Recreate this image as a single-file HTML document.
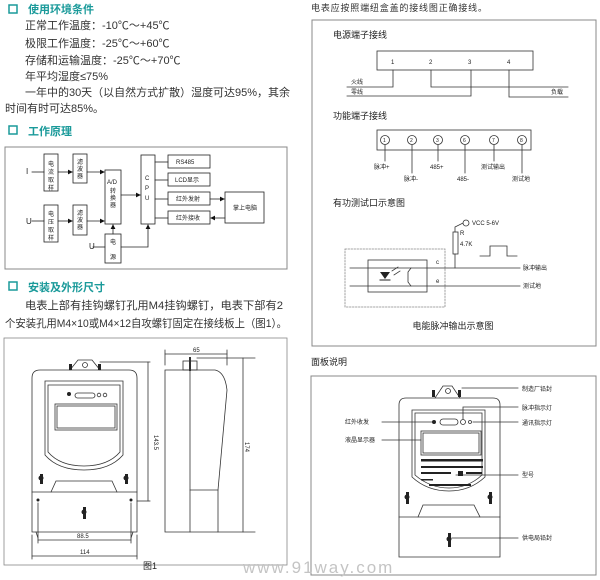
<!DOCTYPE html>
<html><head><meta charset="utf-8"><style>
html,body{margin:0;padding:0;background:#fff;}
svg{display:block;}
text{font-family:"Liberation Sans","Noto Sans CJK SC",sans-serif;fill:#222;}
.b{font-size:11px;fill:#333;}
.h{font-size:11px;font-weight:bold;fill:#1a9a9a;}
.s{font-size:6px;}
.m{font-size:8px;}
</style></head><body>
<svg width="600" height="580" viewBox="0 0 600 580" xmlns="http://www.w3.org/2000/svg" stroke-linecap="square">
<defs><marker id="ar" markerWidth="6" markerHeight="6" refX="5" refY="3" orient="auto"><path d="M0,0 L6,3 L0,6z" fill="#111"/></marker></defs>
<!-- LEFT TEXT -->
<rect x="9" y="5" width="8" height="8" fill="none" stroke="#1a9a9a" stroke-width="1.5"/>
<text x="28" y="13" class="h">使用环境条件</text>
<text x="25" y="29" class="b">正常工作温度：-10℃～+45℃</text>
<text x="25" y="47" class="b">极限工作温度：-25℃～+60℃</text>
<text x="25" y="64" class="b">存储和运输温度：-25℃～+70℃</text>
<text x="25" y="80" class="b">年平均湿度≤75%</text>
<text x="25" y="96" class="b" textLength="265" lengthAdjust="spacingAndGlyphs">一年中的30天（以自然方式扩散）湿度可达95%，其余</text>
<text x="5" y="112" class="b">时间有时可达85%。</text>
<rect x="9" y="126" width="8" height="8" fill="none" stroke="#1a9a9a" stroke-width="1.5"/>
<text x="28" y="135" class="h">工作原理</text>
<!-- block diagram -->
<g fill="none" stroke="#222" stroke-width="0.8">
<rect x="5" y="147" width="282" height="122" stroke="#888" stroke-width="1"/>
<rect x="44" y="154" width="14" height="37"/><rect x="73" y="154" width="14" height="29"/>
<rect x="44" y="205" width="14" height="37"/><rect x="73" y="205" width="14" height="30"/>
<rect x="105" y="170" width="16" height="54"/><rect x="105" y="234" width="16" height="29"/>
<rect x="141" y="155" width="14" height="69"/>
<rect x="168" y="155" width="42" height="13"/><rect x="168" y="173" width="42" height="13"/>
<rect x="168" y="192" width="42" height="13"/><rect x="168" y="211" width="42" height="13"/>
<rect x="225" y="192" width="39" height="31"/>
<line x1="32" y1="172" x2="44" y2="172"/><line x1="58" y1="172" x2="72" y2="172" marker-end="url(#ar)"/>
<line x1="87" y1="172" x2="104" y2="172" marker-end="url(#ar)"/>
<line x1="32" y1="221" x2="44" y2="221"/><line x1="58" y1="221" x2="72" y2="221" marker-end="url(#ar)"/>
<line x1="87" y1="221" x2="104" y2="221" marker-end="url(#ar)"/>
<line x1="113" y1="234" x2="113" y2="225" marker-end="url(#ar)"/>
<line x1="121" y1="195" x2="140" y2="195" marker-end="url(#ar)"/>
<line x1="93" y1="247" x2="105" y2="247"/>
<polyline points="121,247 148,247 148,225" marker-end="url(#ar)"/>
<line x1="155" y1="162" x2="168" y2="162"/><line x1="155" y1="180" x2="168" y2="180"/>
<line x1="155" y1="199" x2="168" y2="199"/><line x1="155" y1="218" x2="168" y2="218"/>
<line x1="210" y1="199" x2="224" y2="199" marker-end="url(#ar)"/>
<line x1="225" y1="218" x2="211" y2="218" marker-end="url(#ar)"/>
</g>
<g class="s">
<text x="26" y="174" class="m">I</text><text x="26" y="224" class="m">U</text><text x="89" y="249" class="m">U</text>
<text x="48" y="166">电</text><text x="48" y="174">流</text><text x="48" y="182">取</text><text x="48" y="190">样</text>
<text x="48" y="216">电</text><text x="48" y="224">压</text><text x="48" y="232">取</text><text x="48" y="240">样</text>
<text x="77" y="164">滤</text><text x="77" y="171">波</text><text x="77" y="178">器</text>
<text x="77" y="215">滤</text><text x="77" y="222">波</text><text x="77" y="229">器</text>
<text x="107" y="184">A/D</text><text x="110" y="193">转</text><text x="110" y="200">换</text><text x="110" y="207">器</text>
<text x="110" y="244">电</text><text x="110" y="259">源</text>
<text x="145" y="180">C</text><text x="145" y="190">P</text><text x="145" y="200">U</text>
<text x="176" y="164">RS485</text><text x="175" y="182">LCD显示</text><text x="176" y="201">红外发射</text><text x="176" y="220">红外接收</text>
<text x="233" y="210">掌上电脑</text>
</g>
<rect x="9" y="282" width="8" height="8" fill="none" stroke="#1a9a9a" stroke-width="1.5"/>
<text x="28" y="291" class="h">安装及外形尺寸</text>
<text x="25" y="309" class="b" textLength="258" lengthAdjust="spacingAndGlyphs">电表上部有挂钩螺钉孔用M4挂钩螺钉，电表下部有2</text>
<text x="5" y="327" class="b" textLength="282" lengthAdjust="spacingAndGlyphs">个安装孔用M4×10或M4×12自攻螺钉固定在接线板上（图1）。</text>
<!-- figure 1 -->
<g fill="none" stroke="#333" stroke-width="0.8">
<rect x="4" y="338" width="283" height="227" stroke="#888"/>
<path d="M70,370 L78,360 L92,360 L100,370"/><circle cx="85" cy="365" r="2.5"/>
<path d="M32,532 L32,378 Q32,370 40,370 L129,370 Q137,370 137,378 L137,532 Z"/>
<path d="M45,381 L123,381 L123,455 Q110,470 84,470 Q58,470 45,455 Z"/>
<path d="M48,385 L120,385 L120,452 Q108,466 84,466 Q60,466 48,452 Z"/>
<rect x="55" y="404" width="62" height="26"/><rect x="57" y="406" width="58" height="22"/>
<rect x="75" y="393" width="20" height="5" rx="2.5"/><circle cx="99" cy="395" r="1.8"/><circle cx="105" cy="395" r="1.8"/>
<line x1="32" y1="492" x2="137" y2="492"/>
<path d="M51,492 L56,481 L112,481 L117,492"/>
<line x1="36" y1="532" x2="38" y2="538"/><line x1="133" y1="532" x2="131" y2="538"/>
<line x1="38" y1="540" x2="131" y2="540"/><line x1="38" y1="503" x2="38" y2="543"/><line x1="131" y1="503" x2="131" y2="543"/>
<line x1="32" y1="556" x2="137" y2="556"/><line x1="32" y1="535" x2="32" y2="559"/><line x1="137" y1="535" x2="137" y2="559"/>
<line x1="100" y1="362" x2="150" y2="362"/><line x1="137" y1="501" x2="150" y2="501"/><line x1="148" y1="362" x2="148" y2="501"/>
<path d="M165,532 L165,370 L215,370 Q225,372 227,390 L218,490 L218,532 Z"/>
<line x1="190" y1="370" x2="190" y2="532"/><line x1="190" y1="490" x2="218" y2="490"/>
<rect x="183" y="361" width="14" height="9"/><line x1="190" y1="358" x2="190" y2="370" stroke-width="2"/>
<line x1="165" y1="354" x2="227" y2="354"/><line x1="165" y1="350" x2="165" y2="365"/><line x1="227" y1="350" x2="227" y2="365"/>
<line x1="197" y1="358" x2="255" y2="358"/><line x1="218" y1="532" x2="255" y2="532"/><line x1="243" y1="358" x2="243" y2="532"/>
</g>
<g fill="#222">
<rect x="69" y="364" width="3" height="6"/><rect x="98" y="364" width="3" height="6"/>
<circle cx="69" cy="394" r="2"/>
<rect x="40" y="474" width="3" height="10"/><circle cx="41" cy="478" r="2.5"/>
<rect x="125" y="474" width="3" height="10"/><circle cx="126" cy="478" r="2.5"/>
<rect x="83" y="507" width="3" height="12"/><circle cx="84" cy="512" r="2.5"/>
<circle cx="38" cy="500" r="1.5"/><circle cx="131" cy="500" r="1.5"/>
</g>
<text x="77" y="538" class="s">88.5</text><text x="80" y="554" class="s">114</text>
<text x="154" y="435" class="s" transform="rotate(90 154 435)">143.5</text>
<text x="245" y="442" class="s" transform="rotate(90 245 442)">174</text>
<text x="193" y="352" class="s">65</text>
<text x="143" y="569" style="font-size:9px">图1</text>
<!-- RIGHT -->
<text x="311" y="11" style="font-size:9px;fill:#333" textLength="176" lengthAdjust="spacing">电表应按照端纽盒盖的接线图正确接线。</text>
<rect x="312" y="20" width="284" height="326" fill="none" stroke="#888"/>
<text x="333" y="38" style="font-size:9px">电源端子接线</text>
<g fill="none" stroke="#333" stroke-width="0.8">
<rect x="377" y="51" width="156" height="19"/>
<polyline points="347,87 393,87 393,70"/>
<polyline points="431,70 431,87 568,87"/>
<polyline points="347,96 471,96 471,70"/>
<polyline points="509,70 509,97 568,97"/>
<rect x="377" y="130" width="154" height="20"/>
<circle cx="385" cy="140" r="4.5"/><circle cx="412" cy="140" r="4.5"/><circle cx="438" cy="140" r="4.5"/>
<circle cx="465" cy="140" r="4.5"/><circle cx="494" cy="140" r="4.5"/><circle cx="522" cy="140" r="4.5"/>
<line x1="385" y1="145" x2="385" y2="161"/><line x1="412" y1="145" x2="412" y2="173"/>
<line x1="438" y1="145" x2="438" y2="161"/><line x1="465" y1="145" x2="465" y2="173"/>
<line x1="494" y1="145" x2="494" y2="161"/><line x1="522" y1="145" x2="522" y2="173"/>
</g>
<g class="s">
<text x="391" y="64">1</text><text x="429" y="64">2</text><text x="468" y="64">3</text><text x="507" y="64">4</text>
<text x="351" y="84">火线</text><text x="351" y="94">零线</text><text x="551" y="94">负载</text>
<text x="383" y="142" style="font-size:5px">1</text><text x="410" y="142" style="font-size:5px">2</text><text x="436" y="142" style="font-size:5px">3</text>
<text x="463" y="142" style="font-size:5px">6</text><text x="492" y="142" style="font-size:5px">7</text><text x="520" y="142" style="font-size:5px">8</text>
<text x="374" y="169">脉冲+</text><text x="404" y="181">脉冲-</text><text x="430" y="169">485+</text>
<text x="457" y="181">485-</text><text x="481" y="169">测试输出</text><text x="512" y="181">测试地</text>
</g>
<text x="333" y="119" style="font-size:9px">功能端子接线</text>
<text x="333" y="206" style="font-size:9px">有功测试口示意图</text>
<g fill="none" stroke="#333" stroke-width="0.8">
<circle cx="466" cy="223" r="3"/><polyline points="463,223 455,227 455,232"/>
<rect x="453" y="232" width="5" height="22"/><line x1="455" y1="254" x2="455" y2="268"/>
<rect x="345" y="249" width="100" height="58" stroke-dasharray="1.5,1.5" stroke="#888"/>
<rect x="368" y="260" width="59" height="32"/>
<line x1="350" y1="268" x2="520" y2="268"/><line x1="350" y1="286" x2="520" y2="286"/>
<polyline points="480,256 490,256 490,246 507,246 507,256 517,256"/>
<polyline points="411,268 408,272 408,282 411,286"/>
<line x1="392" y1="271" x2="398" y2="267"/><line x1="394" y1="275" x2="400" y2="271"/>
</g>
<path d="M380,272 L390,272 L385,279Z" fill="#222"/><line x1="380" y1="280" x2="390" y2="280" stroke="#222"/>
<g class="s"><text x="472" y="225">VCC 5-6V</text><text x="460" y="235">R</text><text x="460" y="246">4.7K</text>
<text x="436" y="264">c</text><text x="436" y="283">e</text><text x="523" y="270">脉冲输出</text><text x="523" y="288">测试地</text></g>
<text x="453" y="329" style="font-size:9px" text-anchor="middle">电能脉冲输出示意图</text>
<text x="311" y="365" style="font-size:9px">面板说明</text>
<rect x="311" y="376" width="285" height="199" fill="none" stroke="#888"/>
<g fill="none" stroke="#333" stroke-width="0.8">
<path d="M435,398 L443,386 L452,386 L460,398"/><circle cx="448" cy="391" r="2.5"/>
<path d="M399,557 L399,405 Q399,398 406,398 L493,398 Q500,398 500,405 L500,557 Z"/>
<path d="M412,410 L485,410 L485,477 Q470,491 449,491 Q427,491 412,477 Z"/>
<path d="M415,413 L482,413 L482,475 Q468,488 449,488 Q430,488 415,475 Z"/>
<rect x="421" y="431" width="60" height="24"/><rect x="423" y="433" width="56" height="20"/>
<rect x="440" y="419" width="18" height="6" rx="3"/><circle cx="463" cy="422" r="2.5"/><circle cx="470" cy="422" r="1.5"/>
<line x1="399" y1="517" x2="500" y2="517"/><path d="M418,517 L423,505 L474,505 L480,517"/>
<line x1="462" y1="388" x2="518" y2="388"/><polyline points="463,419 463,407 518,407"/>
<line x1="473" y1="422" x2="518" y2="422"/><line x1="456" y1="475" x2="518" y2="475"/>
<line x1="452" y1="538" x2="518" y2="538"/>
<line x1="382" y1="422" x2="432" y2="422"/><line x1="382" y1="440" x2="421" y2="440"/>
</g>
<g fill="#222">
<rect x="432" y="390" width="3" height="7"/><rect x="458" y="390" width="3" height="7"/>
<circle cx="434" cy="422" r="2"/>
<rect x="421" y="459" width="62" height="2.5"/><rect x="421" y="466" width="62" height="2"/>
<rect x="421" y="472" width="30" height="2"/><rect x="458" y="471" width="5" height="5"/><rect x="466" y="472" width="16" height="2"/>
<rect x="421" y="479" width="12" height="1.5"/><rect x="429" y="484" width="42" height="2"/>
<rect x="406" y="492" width="3" height="12"/><circle cx="407" cy="497" r="2.5"/>
<rect x="489" y="492" width="3" height="12"/><circle cx="490" cy="497" r="2.5"/>
<rect x="448" y="533" width="3" height="14"/><circle cx="449" cy="539" r="2.5"/>
</g>
<g class="s"><text x="522" y="391">制造厂铅封</text><text x="522" y="410">脉冲指示灯</text><text x="522" y="425">通讯指示灯</text>
<text x="522" y="477">型号</text><text x="522" y="540">供电局铅封</text><text x="345" y="424">红外收发</text><text x="345" y="442">液晶显示器</text></g>
<text x="243" y="573" style="font-size:17px;fill:#c4c4c4;letter-spacing:2px">www.91way.com</text>
</svg>
</body></html>
